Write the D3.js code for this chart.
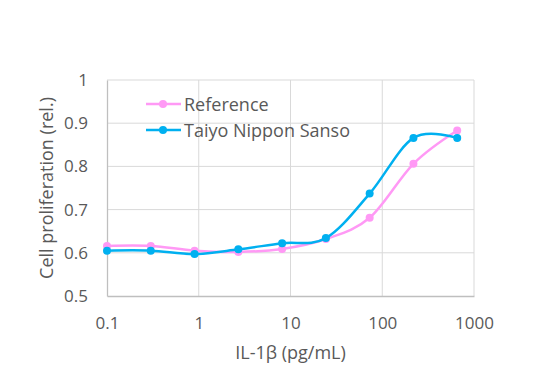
<!DOCTYPE html>
<html>
<head>
<meta charset="utf-8">
<script src="https://cdn.jsdelivr.net/npm/d3@7"></script>
<style>
  body { margin: 0; background: #fff; }
  text { font-family: "Open Sans", sans-serif; fill: #595959; }
</style>
</head>
<body>
<div id="chart"></div>
<script>
// IL-1b concentrations (pg/mL), 3-fold dilution series
const doses = [0.1, 0.3, 0.9, 2.7, 8.1, 24.3, 72.9, 218.7, 656.1]
const reference = [0.616, 0.616, 0.605, 0.602, 0.609, 0.632, 0.681, 0.806, 0.883]
const taiyo = [0.605, 0.605, 0.597, 0.608, 0.622, 0.634, 0.737, 0.866, 0.866]
const seriesNames = ['Reference', 'Taiyo Nippon Sanso']
const seriesColors = ['#ff99f5', '#00b0f0']
const xTicks = [0.1, 1, 10, 100, 1000]
const yTicks = [0.5, 0.6, 0.7, 0.8, 0.9, 1]

const W = 537, H = 373
const m = { left: 107, right: 63, top: 80, bottom: 77 }
const FONT = '"Open Sans", sans-serif'

const svg = d3.select('#chart').append('svg')
  .attr('width', W).attr('height', H)

const x = d3.scaleLog().domain([0.1, 1000]).range([m.left, W - m.right])
const y = d3.scaleLinear().domain([0.5, 1]).range([H - m.bottom, m.top])

// grid
svg.append('g').selectAll('line').data(yTicks.slice(1)).join('line')
  .attr('x1', m.left).attr('x2', W - m.right)
  .attr('y1', d => y(d)).attr('y2', d => y(d))
  .attr('stroke', '#d9d9d9').attr('stroke-width', 1)
svg.append('g').selectAll('line').data(xTicks.slice(1)).join('line')
  .attr('x1', d => x(d)).attr('x2', d => x(d))
  .attr('y1', m.top).attr('y2', H - m.bottom)
  .attr('stroke', '#d9d9d9').attr('stroke-width', 1)

// axes
const xAxis = svg.append('g')
  .attr('transform', `translate(0,${H - m.bottom})`)
  .call(d3.axisBottom(x).tickValues(xTicks).tickFormat(d => String(d)).tickSize(0).tickPadding(21))
const yAxis = svg.append('g')
  .attr('transform', `translate(${m.left},0)`)
  .call(d3.axisLeft(y).tickValues(yTicks).tickFormat(d => String(d)).tickSize(0).tickPadding(19))
;[xAxis, yAxis].forEach(a => {
  a.select('.domain').attr('stroke', '#bfbfbf').attr('stroke-width', 1.3)
  a.selectAll('text').style('font-size', '17px').attr('fill', '#595959')
    .style('font-family', FONT)
})

// axis titles
svg.append('text')
  .attr('x', x(10)).attr('y', 359)
  .attr('text-anchor', 'middle').style('font-size', '18px')
  .text('IL-1β (pg/mL)')
svg.append('text')
  .attr('transform', `translate(53,${(m.top + H - m.bottom) / 2}) rotate(-90)`)
  .attr('text-anchor', 'middle').style('font-size', '18px')
  .text('Cell proliferation (rel.)')

// series
const line = d3.line()
  .x(d => x(d[0])).y(d => y(d[1]))
  .curve(d3.curveCardinal.tension(0))

const allSeries = [reference, taiyo]
allSeries.forEach((vals, i) => {
  const pts = doses.map((d, j) => [d, vals[j]])
  const g = svg.append('g')
  g.append('path').datum(pts)
    .attr('d', line).attr('fill', 'none')
    .attr('stroke', seriesColors[i]).attr('stroke-width', 2.5)
  g.selectAll('circle').data(pts).join('circle')
    .attr('cx', d => x(d[0])).attr('cy', d => y(d[1])).attr('r', 4)
    .attr('fill', seriesColors[i])
})

// legend
const legend = svg.append('g')
seriesNames.forEach((name, i) => {
  const ly = 104 + i * 26
  legend.append('line')
    .attr('x1', 146).attr('x2', 181).attr('y1', ly).attr('y2', ly)
    .attr('stroke', seriesColors[i]).attr('stroke-width', 2.5)
  legend.append('circle')
    .attr('cx', 163).attr('cy', ly).attr('r', 4).attr('fill', seriesColors[i])
  legend.append('text')
    .attr('x', 184).attr('y', ly + 7).style('font-size', '18px')
    .text(name)
})
</script>
</body>
</html>
